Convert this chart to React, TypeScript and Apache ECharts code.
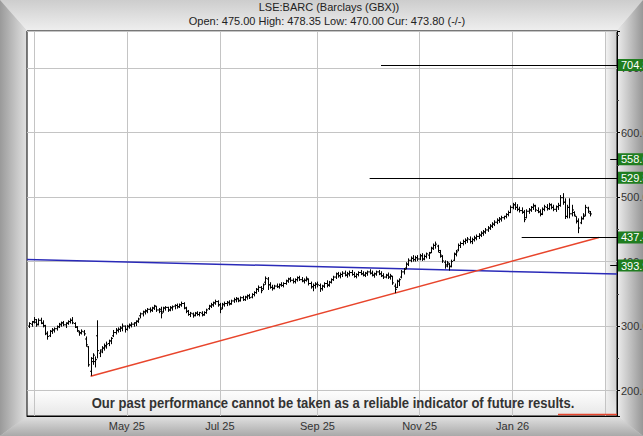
import React, { useEffect, useRef } from 'react';
import * as echarts from 'echarts';

const FONT = "'Liberation Sans', Arial, Helvetica, sans-serif";
const AXIS_START = '2025-02-26';
const AXIS_END = '2026-03-09';
const DATA_START = '2025-02-27';
const HOLIDAYS = ['2025-04-18', '2025-04-21', '2025-05-05', '2025-05-26', '2025-08-25', '2025-12-25', '2025-12-26', '2026-01-01'];
const MONTHS = ['Jan', 'Feb', 'Mar', 'Apr', 'May', 'Jun', 'Jul', 'Aug', 'Sep', 'Oct', 'Nov', 'Dec'];
const GRID_MONTHS = [0, 2, 4, 6, 8, 10];
const LABEL_MONTHS = [0, 4, 6, 8, 10];

const opens = [
  300, 303,
  307, 306, 303, 309, 304, 300, 288, 285, 292, 294, 296, 299, 302, 305, 302, 305, 307, 309, 304, 298, 291,
  290, 291, 280, 268, 230, 250, 245, 285, 258, 263, 266, 268, 273, 277, 285, 290, 293, 295, 297, 300,
  295, 300, 301, 303, 305, 308, 316, 319, 322, 323, 326, 324, 328, 331, 325, 326, 322, 328, 329, 325,
  328, 331, 332, 330, 333, 335, 328, 323, 318, 319, 317, 320, 318, 320, 318, 321, 327, 331, 333, 336, 338,
  333, 328, 333, 335, 336, 335, 339, 341, 342, 340, 344, 341, 345, 347, 345, 349, 352, 357, 360, 358, 368, 373, 364,
  360, 359, 362, 361, 364, 363, 366, 370, 373, 371, 369, 372, 375, 372, 370, 371, 372, 366, 361, 363,
  365, 363, 358, 362, 366, 364, 368, 372, 376, 381, 378, 380, 382, 379, 381, 383, 380, 377, 380, 383, 381, 379,
  382, 384, 382, 379, 381, 384, 381, 378, 376, 379, 376, 377, 362, 360, 369, 376, 384, 390, 396, 402, 405, 403, 406,
  404, 409, 404, 408, 410, 414, 421, 425, 424, 414, 408, 399, 395, 396, 393, 402, 412, 418, 425, 428,
  431, 433, 434, 431, 434, 436, 439, 441, 444, 446, 449, 452, 455, 458, 461, 464, 466, 468, 470, 473, 476,
  484, 488, 484, 481, 479, 476, 468, 478, 480, 484, 486, 479, 477, 474, 481, 484, 482, 488, 484, 481, 485,
  487, 499, 492, 470, 484, 474, 476, 470, 463, 460, 467, 472, 483, 475,
];
const highs = [
  306, 308,
  314, 311, 312, 313, 309, 302, 292, 294, 297, 298, 301, 305, 307, 308, 306, 309, 312, 314, 306, 300, 293,
  295, 294, 284, 269, 252, 258, 253, 309, 264, 269, 273, 276, 279, 283, 294, 297, 298, 300, 304, 301,
  302, 304, 306, 306, 309, 313, 321, 324, 326, 328, 329, 330, 333, 331, 328, 330, 330, 331, 330, 331,
  332, 334, 335, 335, 338, 337, 330, 325, 322, 321, 322, 323, 322, 323, 323, 327, 333, 336, 338, 341, 340,
  336, 336, 338, 339, 340, 341, 344, 345, 344, 346, 347, 347, 349, 350, 351, 354, 359, 363, 362, 366, 377, 376, 368,
  364, 364, 366, 366, 368, 368, 372, 375, 376, 374, 374, 377, 378, 376, 374, 377, 374, 369, 366, 368,
  369, 366, 364, 368, 371, 370, 374, 378, 383, 384, 383, 385, 386, 384, 386, 387, 384, 382, 385, 387, 385, 384,
  386, 388, 386, 383, 386, 387, 385, 382, 381, 383, 381, 378, 366, 372, 374, 387, 390, 399, 405, 408, 410, 409, 410,
  412, 413, 411, 414, 415, 423, 428, 431, 426, 418, 410, 402, 401, 398, 403, 414, 418, 428, 431, 434,
  436, 438, 439, 437, 440, 442, 444, 447, 449, 452, 455, 458, 461, 464, 467, 469, 471, 471, 475, 479, 487,
  491, 492, 489, 485, 484, 480, 481, 483, 486, 490, 488, 484, 481, 484, 488, 489, 491, 490, 488, 487, 491,
  503, 506, 498, 488, 498, 488, 478, 470, 467, 470, 475, 488, 485, 478.35,
];
const lows = [
  297, 299,
  304, 299, 301, 303, 298, 286, 279, 283, 288, 290, 293, 297, 299, 300, 297, 302, 304, 303, 297, 291, 285,
  287, 285, 268, 237, 223, 240, 236, 250, 252, 258, 262, 265, 269, 272, 283, 287, 290, 291, 292, 290,
  293, 296, 298, 299, 300, 305, 312, 315, 318, 320, 321, 322, 325, 322, 320, 312, 321, 324, 322, 323,
  324, 326, 327, 328, 330, 326, 320, 316, 314, 313, 315, 316, 315, 315, 316, 319, 325, 328, 330, 333, 330,
  320, 326, 330, 331, 332, 333, 336, 337, 337, 338, 339, 339, 341, 342, 343, 346, 350, 353, 351, 356, 364, 356, 358,
  355, 357, 359, 358, 361, 360, 364, 367, 368, 366, 366, 369, 370, 368, 366, 369, 363, 358, 354, 358,
  360, 353, 355, 359, 360, 361, 366, 370, 373, 375, 374, 376, 377, 375, 377, 378, 375, 374, 377, 379, 377, 376,
  378, 380, 377, 375, 378, 379, 376, 373, 374, 373, 372, 364, 351, 359, 362, 374, 380, 388, 393, 399, 400, 400, 401,
  402, 401, 402, 405, 404, 413, 418, 420, 414, 406, 398, 389, 391, 386, 391, 401, 408, 416, 421, 425,
  427, 429, 428, 427, 431, 433, 435, 438, 440, 443, 446, 449, 452, 455, 458, 460, 462, 465, 467, 470, 475,
  481, 480, 478, 476, 474, 461, 467, 474, 477, 480, 477, 475, 470, 472, 478, 479, 480, 481, 478, 477, 480,
  485, 488, 466, 467, 467, 470, 470, 459, 444, 458, 465, 470, 475, 470,
];
const closes = [
  304, 306,
  310, 302, 309, 305, 301, 289, 284, 292, 294, 296, 299, 303, 305, 302, 304, 307, 309, 305, 299, 293, 289,
  292, 288, 271, 240, 245, 255, 248, 262, 260, 266, 270, 272, 277, 281, 290, 294, 295, 297, 300, 295,
  299, 302, 303, 305, 307, 311, 319, 322, 324, 326, 325, 328, 331, 325, 323, 320, 328, 329, 325, 329,
  330, 332, 330, 333, 335, 328, 323, 318, 320, 316, 320, 318, 321, 317, 321, 325, 331, 333, 336, 338, 333,
  326, 334, 335, 337, 334, 339, 341, 343, 339, 344, 341, 345, 347, 344, 349, 352, 357, 360, 355, 364, 374, 364, 360,
  358, 362, 361, 364, 363, 366, 370, 373, 371, 369, 372, 375, 372, 370, 371, 374, 366, 361, 363, 365,
  364, 358, 362, 366, 363, 368, 372, 376, 381, 378, 380, 382, 379, 381, 383, 380, 377, 380, 383, 381, 379, 382,
  384, 382, 379, 381, 384, 381, 378, 376, 379, 376, 378, 367, 357, 370, 372, 384, 388, 396, 402, 405, 403, 406, 404,
  409, 404, 408, 412, 413, 420, 425, 427, 417, 410, 401, 393, 398, 392, 400, 411, 415, 425, 428, 431,
  433, 435, 431, 434, 437, 439, 441, 444, 446, 449, 452, 455, 458, 461, 464, 466, 468, 470, 473, 476, 484,
  488, 484, 481, 479, 477, 465, 478, 480, 484, 487, 480, 477, 473, 481, 485, 482, 488, 484, 481, 485, 487,
  499, 492, 470, 484, 474, 480, 472, 462, 452, 466, 470, 484, 478, 473.8,
];

// Support / resistance levels
const lineLevels = [704.8, 529.8, 437.4];
const lineStarts = ['2025-10-09', '2025-10-02', '2026-01-08'];
const tickLevels = [558.6, 393.9];
const tickStart = '2026-03-04';

// Trend lines
const blueDates = ['2025-02-26', '2026-03-09'];
const blueValues = [403.2, 380.6];
const redDates = ['2025-04-07', '2026-02-25'];
const redValues = [222.4, 437.4];
const baseDates = ['2026-01-30', '2026-03-09'];
const baseValues = [163, 163];

const Y_MIN = 160.7;
const Y_MAX = 757.3;

function tradingDays(): string[] {
  const out: string[] = [];
  const d = new Date(AXIS_START + 'T00:00:00Z');
  const end = new Date(AXIS_END + 'T00:00:00Z');
  while (d <= end) {
    const wd = d.getUTCDay();
    const s = d.toISOString().slice(0, 10);
    if (wd !== 0 && wd !== 6 && HOLIDAYS.indexOf(s) < 0) out.push(s);
    d.setUTCDate(d.getUTCDate() + 1);
  }
  return out;
}

export default function App() {
  const ref = useRef<HTMLDivElement>(null);
  useEffect(() => {
    document.body.style.margin = '0';
    if (!ref.current) return;
    const chart = echarts.init(ref.current, null, { renderer: 'svg' });
    const cats = tradingDays();
    const first = cats.indexOf(DATA_START);
    const month = (s: string) => parseInt(s.slice(5, 7), 10) - 1;
    const gridIdx = new Set<number>();
    const labelIdx = new Set<number>();
    for (let i = 1; i < cats.length; i++) {
      const m = month(cats[i]);
      if (m !== month(cats[i - 1])) {
        if (GRID_MONTHS.indexOf(m) >= 0) gridIdx.add(i);
        if (LABEL_MONTHS.indexOf(m) >= 0) labelIdx.add(i);
      }
    }
    const ohlc = opens.map((o, k) => [first + k, o, highs[k], lows[k], closes[k]]);
    const n = closes.length - 1;
    const f2 = (v: number) => v.toFixed(2);
    const sub = `Open: ${f2(opens[n])} High: ${f2(highs[n])} Low: ${f2(lows[n])} Cur: ${f2(closes[n])} (-/-)`;
    const lastCat = cats[cats.length - 1];

    const boxLabel = (txt: string, bg: string) => ({
      show: true,
      position: 'end',
      formatter: txt,
      color: '#fff',
      backgroundColor: bg,
      padding: [1, 3, 0, 3],
      fontSize: 11,
      fontFamily: FONT,
      distance: 1,
    });

    const markData: any[] = [];
    lineLevels.forEach((v, k) => {
      markData.push([
        { coord: [lineStarts[k], v], lineStyle: { color: '#000', width: 1, type: 'solid' }, label: boxLabel(v.toFixed(1), '#1f7d1f') },
        { coord: [lastCat, v] },
      ]);
    });
    tickLevels.forEach((v) => {
      markData.push([
        { coord: [tickStart, v], lineStyle: { color: '#000', width: 1, type: 'solid' }, label: boxLabel(v.toFixed(1), '#1f7d1f') },
        { coord: [lastCat, v] },
      ]);
    });
    markData.push([
      { coord: [cats[cats.length - 2], closes[n]], lineStyle: { opacity: 0, width: 0 }, label: boxLabel(closes[n].toFixed(1), '#000') },
      { coord: [lastCat, closes[n]] },
    ]);

    const W = 643, H = 436, L = 27, T = 31, R = 617, B = 416;
    const lin = (x2: number, y2: number, a: string, b: string) => ({
      type: 'linear', x: 0, y: 0, x2, y2, colorStops: [{ offset: 0, color: a }, { offset: 1, color: b }],
    });
    const poly = (pts: number[][], fill: any) => ({ type: 'polygon', z: -19, shape: { points: pts }, style: { fill }, silent: true });

    chart.setOption({
      animation: false,
      textStyle: { fontFamily: FONT },
      grid: {
        left: L, right: W - R, top: T, bottom: H - B,
        outerBoundsMode: 'none', containLabel: false,
        show: true, borderColor: '#000', borderWidth: 1, backgroundColor: 'transparent',
      },
      graphic: {
        elements: [
          { type: 'rect', z: -20, shape: { x: 0, y: 0, width: W, height: H }, style: { fill: '#cccccc' }, silent: true },
          poly([[0, 0], [W, 0], [R, T], [L, T]], lin(0, 1, '#cdcdcd', '#efefef')),
          poly([[0, 0], [L, T], [L, B], [0, H]], lin(1, 0, '#9a9a9a', '#e2e2e2')),
          poly([[W, 0], [W, H], [R, B], [R, T]], lin(1, 0, '#ececec', '#979797')),
          poly([[0, H], [L, B], [R, B], [W, H]], lin(0, 1, '#e2e2e2', '#a9a9a9')),
          { type: 'rect', z: -18, shape: { x: L, y: T, width: R - L, height: B - T }, style: { fill: '#ffffff' }, silent: true },
          { type: 'rect', z: -17, shape: { x: 606, y: T, width: R - 606, height: B - T }, style: { fill: lin(1, 0, '#f2f2f2', '#cdcdcd') }, silent: true },
          { type: 'rect', z: -17, shape: { x: L, y: 388, width: R - L, height: B - 388 }, style: { fill: lin(0, 1, 'rgba(235,235,235,0)', '#e6e6e6') }, silent: true },
          { type: 'text', z: 10, x: 329, y: 7, style: { text: 'LSE:BARC (Barclays (GBX))', fill: '#222', font: `11px ${FONT}`, textAlign: 'center', textVerticalAlign: 'middle' }, silent: true },
          { type: 'text', z: 10, x: 327, y: 21, style: { text: sub, fill: '#222', font: `11px ${FONT}`, textAlign: 'center', textVerticalAlign: 'middle' }, silent: true },
          {
            type: 'text', z: 10, x: 333, y: 403, scaleX: 0.87,
            style: { text: 'Our past performance cannot be taken as a reliable indicator of future results.', fill: '#333', font: `bold 15px 'Liberation Sans', Arial, sans-serif`, textAlign: 'center', textVerticalAlign: 'middle' },
            silent: true,
          },
        ],
      },
      xAxis: {
        type: 'category',
        data: cats,
        boundaryGap: false,
        axisLine: { show: true, lineStyle: { color: '#000', width: 1 } },
        axisTick: { show: false },
        axisLabel: {
          interval: (i: number) => labelIdx.has(i),
          formatter: (v: string) => `${MONTHS[month(v)]} ${v.slice(2, 4)}`,
          color: '#333', fontSize: 11, fontFamily: FONT, margin: 4,
        },
        splitLine: { show: true, interval: (i: number) => gridIdx.has(i), lineStyle: { color: '#c4c4c4', width: 1 } },
      },
      yAxis: {
        type: 'value',
        position: 'right',
        min: Y_MIN,
        max: Y_MAX,
        splitNumber: 6,
        axisLine: { show: true, lineStyle: { color: '#000', width: 1 } },
        axisTick: { show: true, inside: false, length: 3, lineStyle: { color: '#000' } },
        minorTick: { show: true, splitNumber: 2, length: 2, lineStyle: { color: '#444' } },
        axisLabel: {
          formatter: (v: number) => v.toFixed(1), color: '#333', fontSize: 11, fontFamily: FONT, margin: 4,
          showMinLabel: false, showMaxLabel: false,
        },
        splitLine: { show: true, lineStyle: { color: '#c4c4c4', width: 1 } },
      },
      series: [
        {
          type: 'custom',
          z: 5,
          data: ohlc,
          encode: { x: 0, y: [1, 2, 3, 4] },
          renderItem: (params: any, api: any) => {
            const x = api.value(0);
            const o = api.coord([x, api.value(1)]);
            const h = api.coord([x, api.value(2)]);
            const l = api.coord([x, api.value(3)]);
            const c = api.coord([x, api.value(4)]);
            const px = Math.round(h[0]) + 0.5;
            const st = { stroke: '#000', lineWidth: 1 };
            return {
              type: 'group',
              children: [
                { type: 'line', shape: { x1: px, y1: h[1], x2: px, y2: l[1] }, style: st },
                { type: 'line', shape: { x1: px - 1.5, y1: o[1], x2: px, y2: o[1] }, style: st },
                { type: 'line', shape: { x1: px, y1: c[1], x2: px + 1.5, y2: c[1] }, style: st },
              ],
            };
          },
        },
        {
          type: 'line',
          z: 4,
          symbol: 'none',
          clip: false,
          data: blueDates.map((d, k) => [d, blueValues[k]]),
          lineStyle: { color: '#2a2ab8', width: 1.5 },
          markLine: { symbol: ['none', 'none'], silent: true, animation: false, data: markData },
        },
        {
          type: 'line',
          z: 4,
          symbol: 'none',
          data: redDates.map((d, k) => [d, redValues[k]]),
          lineStyle: { color: '#e8452c', width: 1.5 },
        },
        {
          type: 'line',
          z: 4,
          symbol: 'none',
          data: baseDates.map((d, k) => [d, baseValues[k]]),
          lineStyle: { color: '#e8452c', width: 1.5 },
        },
      ],
    });
    return () => chart.dispose();
  }, []);
  return <div ref={ref} style={{ width: 643, height: 436 }} />;
}
